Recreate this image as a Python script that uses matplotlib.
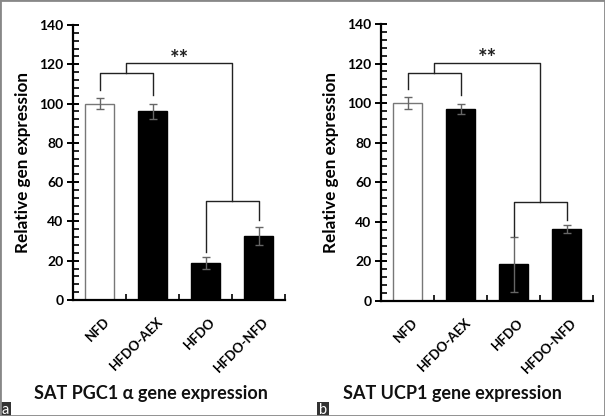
import matplotlib
matplotlib.use("Agg")
import matplotlib.pyplot as plt
from matplotlib.patches import Rectangle
from matplotlib.ticker import MultipleLocator, FixedLocator
from matplotlib.transforms import ScaledTranslation

plt.rcParams['font.family'] = ['Lato', 'DejaVu Sans']

categories = ["NFD", "HFDO-AEX", "HFDO", "HFDO-NFD"]
pgc1_values = [100, 96, 19, 32.5]
pgc1_errors = [3, 4, 3, 4.5]
ucp1_values = [100, 97, 18.5, 36.5]
ucp1_errors = [3, 2.5, 14, 2]
titles = ["SAT PGC1 \u03b1 gene expression", "SAT UCP1 gene expression"]
panel_labels = ["a", "b"]

brackets_a = dict(upper_legs=(107, 104.5), upper_y=115.5, top_y=120.5, lower_y=50.5, lower_legs=(24.5, 40.5), star_y=122.5)
brackets_b = dict(upper_legs=(107, 104), upper_y=115, top_y=120.3, lower_y=50, lower_legs=(33, 41), star_y=122.5)

W, H = 605, 416
fig = plt.figure(figsize=(W / 100, H / 100), dpi=100)
fig.patch.set_facecolor("white")

axes_px = [(73, 285, 25, 300), (381, 593, 24, 301)]
title_px = [(151, 394), (452, 394)]
label_px = [(0, 11), (317, 329)]

datasets = [(pgc1_values, pgc1_errors, brackets_a), (ucp1_values, ucp1_errors, brackets_b)]

for i, ((x0, x1, ytop, ybot), (vals, errs, br)) in enumerate(zip(axes_px, datasets)):
    ax = fig.add_axes([x0 / W, 1 - ybot / H, (x1 - x0) / W, (ybot - ytop) / H])
    xs = list(range(len(categories)))
    colors = ["white", "black", "black", "black"]
    edges = ["#777777", "black", "black", "black"]
    ax.bar(xs, vals, width=0.56, color=colors, edgecolor=edges, linewidth=1.0, zorder=2)
    ax.errorbar(xs, vals, yerr=errs, fmt="none", ecolor="#666666", elinewidth=1.0,
                capsize=3, capthick=1.0, zorder=3)
    ax.set_xlim(-0.5, 3.5)
    ax.set_ylim(0, 140)
    for s in ["top", "right"]:
        ax.spines[s].set_visible(False)
    for s in ["left", "bottom"]:
        ax.spines[s].set_linewidth(1.6)
        ax.spines[s].set_color("black")
    ax.yaxis.set_major_locator(MultipleLocator(20))
    ax.yaxis.set_minor_locator(MultipleLocator(4))
    ax.tick_params(axis="y", which="major", direction="inout", length=8, width=1.4,
                   labelsize=10, pad=3)
    ax.tick_params(axis="y", which="minor", direction="in", length=4, width=1.2)
    for lab in ax.get_yticklabels():
        lab.set_fontweight("bold")
    ax.set_xticks(xs)
    ax.set_xticklabels(categories, rotation=45, ha="right", va="top",
                       rotation_mode="anchor", fontsize=9.5, fontweight="bold")
    ax.tick_params(axis="x", which="major", length=0, pad=11)
    off = ScaledTranslation(4 / 100, 0, fig.dpi_scale_trans)
    for lab in ax.get_xticklabels():
        lab.set_transform(lab.get_transform() + off)
    ax.xaxis.set_minor_locator(FixedLocator([0.5, 1.5, 2.5, 3.5]))
    ax.tick_params(axis="x", which="minor", direction="in", length=4, width=1.2)
    ax.set_ylabel("Relative gen expression", fontsize=12.3, fontweight="bold", labelpad=6)

    lw = 1.0
    c = "#222222"
    ul, ur = br["upper_legs"]
    ax.plot([0, 0, 1, 1], [ul, br["upper_y"], br["upper_y"], ur], color=c, lw=lw, zorder=4)
    ax.plot([0.5, 0.5, 2.5, 2.5], [br["upper_y"], br["top_y"], br["top_y"], br["lower_y"]],
            color=c, lw=lw, zorder=4)
    ll, lr = br["lower_legs"]
    ax.plot([2, 2, 3, 3], [ll, br["lower_y"], br["lower_y"], lr], color=c, lw=lw, zorder=4)
    ax.text(1.5, br["star_y"], "**", ha="center", va="center", fontsize=16, fontweight="bold",
            color="#222222")

    tx, ty = title_px[i]
    fig.text(tx / W, 1 - ty / H, titles[i], ha="center", va="center", fontsize=13,
             fontweight="bold", color="#111111")

    lx0, lx1 = label_px[i]
    fig.patches.append(Rectangle((lx0 / W, 0), (lx1 - lx0) / W, 14 / H, transform=fig.transFigure,
                                 facecolor="#333333", edgecolor="none", zorder=5))
    fig.text((lx0 + lx1) / 2 / W, 6.5 / H, panel_labels[i], ha="center", va="center",
             color="white", fontsize=10.5, zorder=6)

fig.patches.append(Rectangle((0, 0), 1, 1, transform=fig.transFigure, facecolor="none",
                             edgecolor="#888888", linewidth=2.0, zorder=10))

fig.savefig("out.png", dpi=100)
